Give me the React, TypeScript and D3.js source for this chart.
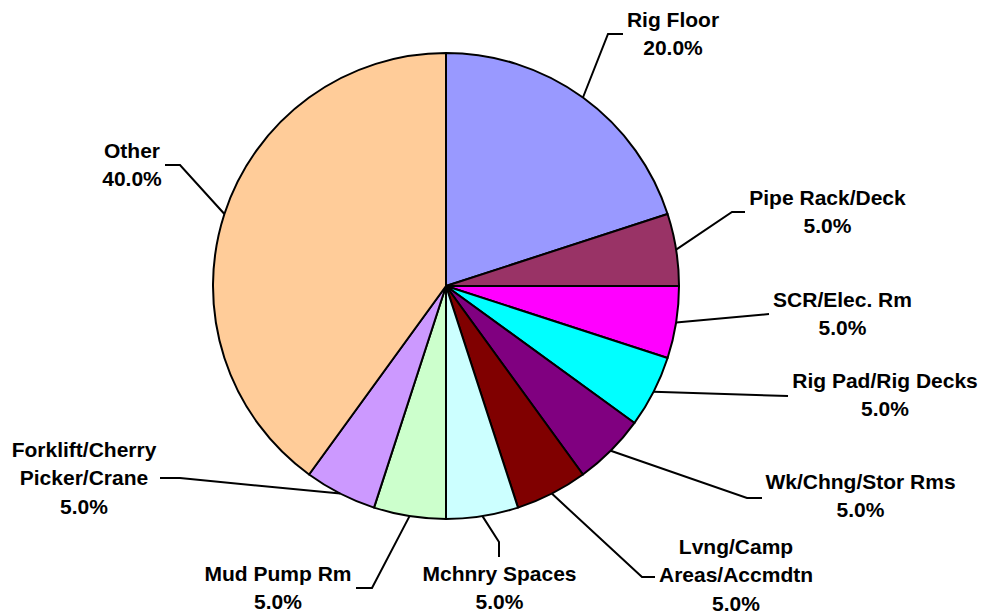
import React from "react";
import * as d3 from "d3";

const categories = [
  "Rig Floor",
  "Pipe Rack/Deck",
  "SCR/Elec. Rm",
  "Rig Pad/Rig Decks",
  "Wk/Chng/Stor Rms",
  "Lvng/Camp Areas/Accmdtn",
  "Mchnry Spaces",
  "Mud Pump Rm",
  "Forklift/Cherry Picker/Crane",
  "Other",
];
const values = [20, 5, 5, 5, 5, 5, 5, 5, 5, 40];
const labelLines = [
  ["Rig Floor"],
  ["Pipe Rack/Deck"],
  ["SCR/Elec. Rm"],
  ["Rig Pad/Rig Decks"],
  ["Wk/Chng/Stor Rms"],
  ["Lvng/Camp", "Areas/Accmdtn"],
  ["Mchnry Spaces"],
  ["Mud Pump Rm"],
  ["Forklift/Cherry", "Picker/Crane"],
  ["Other"],
];
const colors = [
  "#9999FF",
  "#993366",
  "#FF00FF",
  "#00FFFF",
  "#800080",
  "#800000",
  "#CCFFFF",
  "#CCFFCC",
  "#CC99FF",
  "#FFCC99",
];

// layout (label center x, first baseline y, leader waypoints)
const labelLayout: { cx: number; by: number; pts: [number, number][] }[] = [
  { cx: 673, by: 26.5, pts: [[608, 34], [623, 34]] },
  { cx: 827.5, by: 205, pts: [[732, 212], [745, 212]] },
  { cx: 842.5, by: 306.5, pts: [[769, 314]] },
  { cx: 885, by: 388, pts: [[788, 396]] },
  { cx: 860.5, by: 489, pts: [[747, 498], [762, 498]] },
  { cx: 736, by: 554, pts: [[642, 577], [655, 577]] },
  { cx: 499.5, by: 581, pts: [[499, 542], [499, 557]] },
  { cx: 278, by: 581, pts: [[372, 588], [356, 588]] },
  { cx: 84, by: 457, pts: [[180, 478], [160, 478]] },
  { cx: 132, by: 158, pts: [[180, 165], [165, 165]] },
];

const W = 985;
const H = 613;
const CX = 446;
const CY = 286;
const R = 233;
const LINE_H = 28.3;

export default function App() {
  const total = d3.sum(values);
  const pie = d3
    .pie<number>()
    .sort(null)
    .startAngle(0)
    .endAngle(2 * Math.PI)
    .value((d) => d);
  const arcs = pie(values);
  const arcGen = d3.arc<d3.PieArcDatum<number>>().innerRadius(0).outerRadius(R);
  const fmt = d3.format(".1%");

  return (
    <svg
      width={W}
      height={H}
      style={{ position: "absolute", left: 0, top: 0, background: "#fff" }}
      fontFamily="'Liberation Sans', Arial, sans-serif"
    >
      <g transform={`translate(${CX},${CY})`}>
        {arcs.map((a, i) => (
          <path
            key={i}
            d={arcGen(a) || ""}
            fill={colors[i]}
            stroke="#000"
            strokeWidth={2}
            strokeLinejoin="round"
          />
        ))}
      </g>
      {arcs.map((a, i) => {
        const mid = (a.startAngle + a.endAngle) / 2;
        const sx = CX + R * Math.sin(mid);
        const sy = CY - R * Math.cos(mid);
        const lay = labelLayout[i];
        const pts: [number, number][] = [[sx, sy], ...lay.pts];
        const line = d3.line()(pts) || "";
        const lines = [...labelLines[i], fmt(values[i] / total)];
        return (
          <g key={"l" + i}>
            <path d={line} fill="none" stroke="#000" strokeWidth={2} />
            <text
              x={lay.cx}
              y={lay.by}
              textAnchor="middle"
              fontSize={21}
              fontWeight="bold"
              fill="#000"
            >
              {lines.map((t, j) => (
                <tspan key={j} x={lay.cx} y={lay.by + j * LINE_H}>
                  {t}
                </tspan>
              ))}
            </text>
          </g>
        );
      })}
    </svg>
  );
}
